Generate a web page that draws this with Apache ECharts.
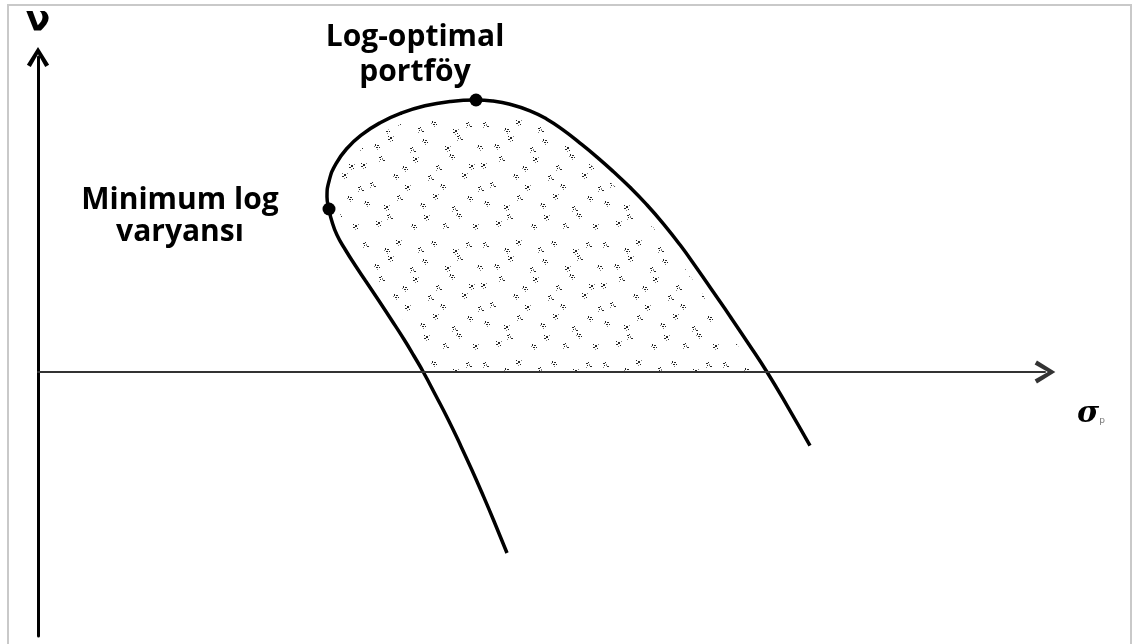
<!DOCTYPE html>
<html>
<head>
<meta charset="utf-8">
<script src="https://cdn.jsdelivr.net/npm/echarts@6/dist/echarts.min.js"></script>
<style>
  html, body { margin: 0; padding: 0; background: #fff; }
  #chart { width: 1134px; height: 644px; }
</style>
</head>
<body>
<div id="chart"></div>
<script>
// Frontier curve in (σ, ν), traced from the lower end of the left branch,
// over the minimum-variance and log-optimal points, down the right branch.
const frontierSigma = [
  46.9, 45.55, 44.49, 43.39, 42.24, 41.04, 39.8, 38.53, 37.6, 36.64, 35.35, 34.04, 32.7, 31.7, 30.75, 29.9, 29.35, 29.1,
  28.9, 29.13, 29.79, 30.89, 32.39, 34.22, 36.35, 38.7, 41.21, 43.8,
  45.5, 47.2, 49.2, 50.85, 52.5, 54.2, 55.9, 57.55, 59.2, 60.85, 62.5, 64.2, 65.9, 67.55, 69.2, 71.05, 72.9, 75.05, 77.2
];
const frontierNu = [
  -18.1, -14.8, -12.3, -9.8, -7.3, -4.8, -2.4, 0, 1.6, 3.2, 5.2, 7.2, 9.2, 10.7, 12.2, 13.7, 15.2, 16.3,
  17.5, 19.19, 20.82, 22.35, 23.74, 24.93, 25.9, 26.62, 27.05, 27.2,
  27.09, 26.77, 26.12, 25.31, 24.21, 22.89, 21.49, 20.03, 18.47, 16.76, 14.87, 12.72, 10.36, 7.97, 5.58, 2.83, 0, -3.61, -7.37
];

// Highlighted portfolios on the frontier
const pointNames = ['Minimum log\nvaryansı', 'Log-optimal\nportföy'];
const pointSigma = [29.1, 43.8];
const pointNu    = [16.3, 27.2];

// Axis extents
const sigmaRange = [0, 100.7];
const nuRange = [-26.4, 31.5];

const frontier = frontierSigma.map((s, i) => [s, frontierNu[i]]);
// Attainable region shown above the σ axis
const region = frontier.filter(p => p[1] >= 0);

// Stipple tile used to shade the attainable region
function makeStipple() {
  const size = 120;
  const c = document.createElement('canvas');
  c.width = size; c.height = size;
  const g = c.getContext('2d');
  const clusters = [
    [3, 2], [24, 8], [36, 0], [58, 7], [71, 1], [93, 9], [106, 2],
    [14, 24], [28, 16], [50, 27], [62, 19], [85, 26], [97, 15], [117, 25],
    [1, 43], [19, 36], [42, 46], [53, 37], [76, 45], [89, 34], [109, 44],
    [10, 62], [33, 54], [45, 65], [68, 55], [80, 64], [102, 53], [118, 66],
    [4, 81], [24, 85], [37, 75], [60, 83], [73, 74], [92, 86], [107, 76],
    [16, 101], [27, 94], [51, 104], [64, 95], [83, 103], [96, 93], [113, 104]
  ];
  // each speck: [dx, dy, w, h]
  const shapes = [
    [[0, 1, 2, 1], [2, 0, 1, 1], [3, 2, 1, 2], [1, 3, 1, 1], [4, 4, 2, 1], [0, 5, 1, 1]],
    [[1, 0, 1, 2], [3, 1, 2, 1], [0, 2, 1, 1], [2, 3, 2, 1], [5, 3, 1, 1], [3, 5, 1, 1]],
    [[0, 0, 1, 1], [2, 1, 2, 2], [5, 0, 1, 1], [0, 3, 2, 1], [4, 4, 1, 1], [2, 5, 1, 1]]
  ];
  clusters.forEach(([x, y], i) => {
    shapes[i % 3].forEach(([dx, dy, w, h], j) => {
      g.fillStyle = j % 3 === 2 ? 'rgba(110,110,110,0.85)' : 'rgba(20,20,20,0.92)';
      g.fillRect((x + dx) % size, (y + dy) % size, w, h);
    });
  });
  return c;
}
const stipple = makeStipple();

// Open chevron arrowhead pointing up (rotated by the axis)
const chevron = 'path://M0,16 L10,0 L20,16 L16.5,18 L10,6.5 L3.5,18 Z';

const chart = echarts.init(document.getElementById('chart'), null, { renderer: 'canvas' });

chart.setOption({
  animation: false,
  backgroundColor: '#fff',
  grid: { left: 38, right: 89, top: 57, bottom: 8 },
  xAxis: {
    type: 'value',
    z: 5,
    min: sigmaRange[0], max: sigmaRange[1],
    axisLine: {
      show: true, onZero: true,
      symbol: ['none', chevron], symbolSize: [23, 25],
      lineStyle: { color: '#333', width: 2 }
    },
    axisTick: { show: false }, axisLabel: { show: false }, splitLine: { show: false }
  },
  yAxis: {
    type: 'value',
    min: nuRange[0], max: nuRange[1],
    axisLine: {
      show: true, onZero: false,
      symbol: ['none', chevron], symbolSize: [26, 20],
      lineStyle: { color: '#000', width: 3 }
    },
    axisTick: { show: false }, axisLabel: { show: false }, splitLine: { show: false }
  },
  graphic: [
    {
      type: 'rect', silent: true, z: -10,
      shape: { x: 8, y: 5, width: 1123, height: 660 },
      style: { fill: 'none', stroke: '#c9c9c9', lineWidth: 2 }
    },
    {
      type: 'text', x: 38, y: 22,
      style: {
        text: 'ν', font: 'bold 36px "DejaVu Sans"', fill: '#000',
        align: 'center', verticalAlign: 'middle'
      }
    },
    {
      type: 'text', x: 1091, y: 414,
      style: {
        text: '{a|σ}{b|p}',
        align: 'center', verticalAlign: 'middle',
        rich: {
          a: { font: 'italic bold 30px "DejaVu Serif"', fill: '#000' },
          b: { font: '9px "DejaVu Sans"', fill: '#777', padding: [14, 0, 0, 0] }
        }
      }
    }
  ],
  series: [
    {
      // stippled attainable set, kept a little clear of the frontier line
      type: 'custom',
      silent: true,
      z: 1,
      data: [0],
      renderItem: (params, api) => {
        const pts = region.map(p => api.coord(p));
        return {
          type: 'group',
          children: [
            {
              type: 'polygon',
              shape: { points: pts },
              style: { fill: { image: stipple, repeat: 'repeat' }, stroke: 'none' }
            },
            {
              type: 'polyline',
              shape: { points: pts, smooth: 0.3 },
              style: { fill: 'none', stroke: '#fff', lineWidth: 20, lineJoin: 'round' }
            }
          ]
        };
      }
    },
    {
      type: 'line',
      z: 3,
      data: frontier,
      smooth: 0.5,
      showSymbol: false,
      symbol: 'none',
      lineStyle: { color: '#000', width: 3.5 }
    },
    {
      type: 'scatter',
      z: 4,
      symbolSize: 13,
      itemStyle: { color: '#000', opacity: 1 },
      data: pointSigma.map((s, i) => ({
        value: [s, pointNu[i]],
        name: pointNames[i],
        label: {
          show: true,
          position: 'inside',
          offset: i === 0 ? [-149, 7] : [-61, -45],
          formatter: '{b}',
          align: 'center',
          verticalAlign: 'middle',
          color: '#000',
          fontFamily: 'Open Sans',
          fontWeight: 'bold',
          fontSize: 30,
          lineHeight: i === 0 ? 32 : 35
        }
      }))
    }
  ]
});
</script>
</body>
</html>
